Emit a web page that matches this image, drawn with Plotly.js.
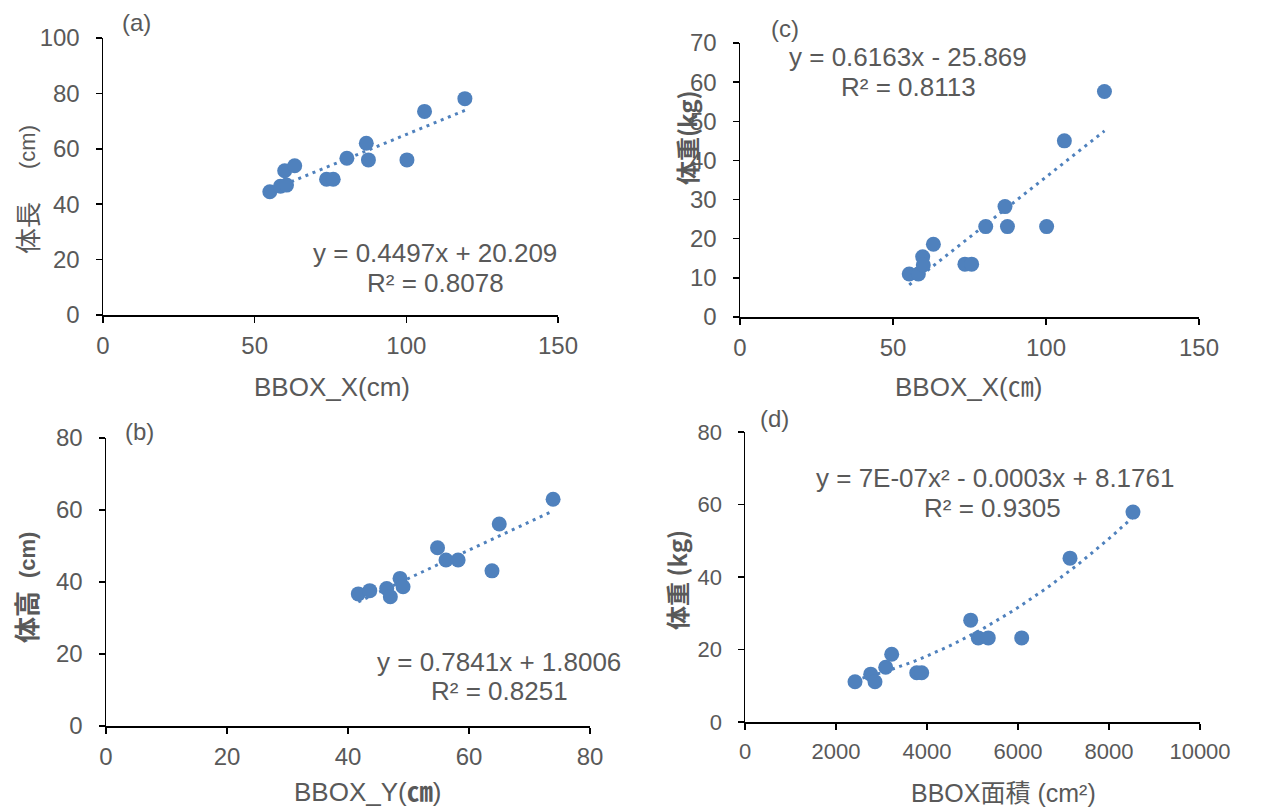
<!DOCTYPE html>
<html>
<head>
<meta charset="utf-8">
<script src="https://cdn.plot.ly/plotly-3.0.1.min.js"></script>
<style>html,body{margin:0;padding:0;background:#fff;}#chart{width:1263px;height:807px;}</style>
</head>
<body>
<div id="chart"></div>
<script>
// ---- data ----
// (a) BBOX_X vs body length
const bboxXa   = [55, 58.5, 60.5, 59.9, 63.2, 73.7, 75.9, 80.4, 86.8, 87.5, 100.2, 106, 119.3];
const lengthA  = [44.5, 46.5, 46.9, 52.1, 53.9, 49, 49, 56.6, 62, 56, 56, 73.5, 78.1];
const coefA    = [0.4497, 20.209];
// (c) BBOX_X vs weight
const bboxXc   = [55.3, 58.3, 59.7, 59.9, 63.2, 73.5, 75.7, 80.3, 86.6, 87.4, 100.2, 106, 119.1];
const weightC  = [11, 11, 15.4, 13.3, 18.6, 13.5, 13.5, 23.1, 28.2, 23.1, 23.1, 45, 57.6];
const coefC    = [0.6163, -25.869];
// (b) BBOX_Y vs body height
const bboxYb   = [41.7, 43.6, 46.4, 47.0, 48.6, 49.1, 54.8, 56.2, 58.2, 63.8, 65.0, 73.9];
const heightB  = [36.7, 37.6, 38.2, 35.9, 41.0, 38.7, 49.5, 46.1, 46.1, 43.1, 56.1, 63.0];
const coefB    = [0.7841, 1.8006];
// (d) BBOX area vs weight
const areaD    = [2418, 2763, 2857, 3092, 3224, 3774, 3884, 4960, 5127, 5347, 6081, 7143, 8527];
const weightD  = [11.1, 13.2, 11.1, 15.1, 18.7, 13.6, 13.6, 28.1, 23.2, 23.2, 23.2, 45.2, 57.9];
const coefD    = [7e-7, -0.0003, 8.1761];

const W = 1263, H = 807;
const blue = '#4F81BD', grey = '#595959';
const numFont = 'Liberation Sans, Arial, Noto Sans CJK JP, sans-serif';
const cjkFont = 'Noto Sans CJK JP, sans-serif';

function linTrend(xs, c, xa, ya) {
  const lo = Math.min(...xs), hi = Math.max(...xs);
  return {x: [lo, hi], y: [c[0]*lo + c[1], c[0]*hi + c[1]], mode: 'lines', xaxis: xa, yaxis: ya,
    line: {color: blue, width: 3, dash: '3px,4.7px'}, hoverinfo: 'skip'};
}
function quadTrend(xs, c, xa, ya) {
  const lo = Math.min(...xs), hi = Math.max(...xs), n = 60;
  const tx = [], ty = [];
  for (let i = 0; i <= n; i++) { const x = lo + (hi - lo) * i / n; tx.push(x); ty.push(c[0]*x*x + c[1]*x + c[2]); }
  return {x: tx, y: ty, mode: 'lines', xaxis: xa, yaxis: ya, line: {color: blue, width: 3, dash: '3px,4.7px'}, hoverinfo: 'skip'};
}
function pts(x, y, xa, ya) {
  return {x: x, y: y, mode: 'markers', xaxis: xa, yaxis: ya, marker: {color: blue, size: 15}};
}

const traces = [
  linTrend(bboxXa, coefA, 'x', 'y'), pts(bboxXa, lengthA, 'x', 'y'),
  linTrend(bboxXc, coefC, 'x2', 'y2'), pts(bboxXc, weightC, 'x2', 'y2'),
  linTrend(bboxYb, coefB, 'x3', 'y3'), pts(bboxYb, heightB, 'x3', 'y3'),
  quadTrend(areaD, coefD, 'x4', 'y4'), pts(areaD, weightD, 'x4', 'y4')
];

function ax(d0, d1, range, dtick, anchor, isY, fsize) {
  const dom = isY ? [1 - d1 / H, 1 - d0 / H] : [d0 / W, d1 / W];
  return {domain: dom, range: range, dtick: dtick, tick0: 0, anchor: anchor, showgrid: false, zeroline: false,
    showline: true, linecolor: '#000', linewidth: 1.5, ticks: 'outside', ticklen: 6, tickwidth: 1.5, tickcolor: '#000',
    tickformat: 'd',
    tickfont: {family: numFont, size: fsize || 24, color: grey}, ticklabelstandoff: isY ? 11 : 3, fixedrange: true};
}

function ann(text, px, py, size, family, extra) {
  return Object.assign({text: text, x: px / W, y: 1 - py / H, xref: 'paper', yref: 'paper', showarrow: false,
    xanchor: 'center', yanchor: 'middle', font: {family: family || numFont, size: size || 26, color: grey}}, extra || {});
}
const rot = {textangle: -90};

const annotations = [
  ann('(a)', 136, 22, 24),
  ann('(c)', 785, 28, 24),
  ann('(b)', 139, 432, 24),
  ann('(d)', 774, 418, 24),
  ann('y = 0.4497x + 20.209', 435, 253),
  ann('R² = 0.8078', 435, 283),
  ann('y = 0.6163x - 25.869', 908, 57),
  ann('R² = 0.8113', 908, 87),
  ann('y = 0.7841x + 1.8006', 499, 662),
  ann('R² = 0.8251', 499, 691),
  ann('y = 7E-07x² - 0.0003x + 8.1761', 995, 478),
  ann('R² = 0.9305', 992, 508),
  // axis titles
  ann('体長', 26, 228, 26, cjkFont, rot),
  ann('(cm)', 27, 147, 22, numFont, rot),
  ann('<b>体重(kg)</b>', 686, 138, 24, cjkFont, rot),
  ann('<b>体高</b>', 25, 617, 26, cjkFont, rot),
  ann('<b>(cm)</b>', 27, 555, 22, numFont, rot),
  ann('<b>体重 (kg)</b>', 676, 580, 24, cjkFont, rot),
  ann('BBOX_X(cm)', 332, 387, 26),
  ann('BBOX_X(㎝)', 968, 387, 26),
  ann('BBOX_Y(<b>㎝</b>)', 367, 792, 26),
  ann('BBOX面積 (cm²)', 1003, 793, 25)
];

const layout = {
  width: W, height: H, margin: {l: 0, r: 0, t: 0, b: 0}, showlegend: false,
  paper_bgcolor: '#fff', plot_bgcolor: '#fff',
  xaxis:  ax(103, 558, [0, 150], 50, 'y', false),
  yaxis:  ax(38, 315, [0, 100], 20, 'x', true),
  xaxis2: ax(740, 1199, [0, 150], 50, 'y2', false),
  yaxis2: ax(43, 317, [0, 70], 10, 'x2', true),
  xaxis3: ax(106, 590, [0, 80], 20, 'y3', false),
  yaxis3: ax(438, 726, [0, 80], 20, 'x3', true),
  xaxis4: ax(745, 1200, [0, 10000], 2000, 'y4', false, 22),
  yaxis4: ax(432, 722, [0, 80], 20, 'x4', true, 22),
  annotations: annotations
};

Plotly.newPlot('chart', traces, layout, {displayModeBar: false, staticPlot: true});
</script>
</body>
</html>
